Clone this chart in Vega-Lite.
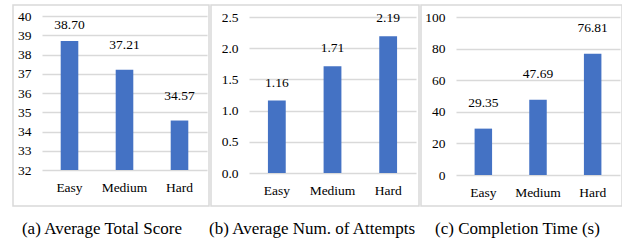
{
  "$schema": "https://vega.github.io/schema/vega-lite/v6.json",
  "background": "white",
  "padding": {"left": 12, "top": 4, "right": 1, "bottom": 0},
  "bounds": "flush",
  "spacing": 2,
  "datasets": {
    "score": [
      {"level": "Easy", "value": 38.70},
      {"level": "Medium", "value": 37.21},
      {"level": "Hard", "value": 34.57}
    ],
    "attempts": [
      {"level": "Easy", "value": 1.16},
      {"level": "Medium", "value": 1.71},
      {"level": "Hard", "value": 2.19}
    ],
    "time": [
      {"level": "Easy", "value": 29.35},
      {"level": "Medium", "value": 47.69},
      {"level": "Hard", "value": 76.81}
    ]
  },
  "config": {
    "font": "Liberation Serif",
    "view": {"stroke": "#d9d9d9", "strokeWidth": 1.5},
    "axis": {
      "labelFont": "Liberation Serif",
      "labelFontSize": 13.5,
      "labelColor": "#000000",
      "domain": false,
      "ticks": false,
      "gridColor": "#d9d9d9",
      "gridWidth": 1.3
    },
    "text": {"font": "Liberation Serif", "fontSize": 13.5, "color": "#000000"},
    "title": {"font": "Liberation Serif", "fontSize": 17, "fontWeight": "normal", "color": "#000000"}
  },
  "hconcat": [
    {
      "width": 196,
      "height": 201,
      "title": {"text": "(a) Average Total Score", "orient": "bottom", "offset": 15, "dx": -9, "anchor": "middle"},
      "data": {"name": "score"},
      "encoding": {
        "x": {
          "field": "level", "type": "nominal", "sort": ["Easy", "Medium", "Hard"],
          "scale": {"range": [29, 194], "paddingInner": 0.68, "paddingOuter": 0.34},
          "axis": {"title": null, "labelAngle": 0, "offset": -36, "labelPadding": 10, "grid": false}
        },
        "y": {
          "field": "value", "type": "quantitative",
          "scale": {"domain": [32, 40], "range": [165, 11], "zero": false, "nice": false},
          "axis": {"title": null, "values": [32, 33, 34, 35, 36, 37, 38, 39, 40], "offset": -29, "labelPadding": 11, "grid": true}
        }
      },
      "layer": [
        {"mark": {"type": "bar", "color": "#4472C4"}, "encoding": {"y2": {"datum": 32}}},
        {
          "transform": [{"filter": "datum.value < 38"}],
          "mark": {"type": "text", "dy": -21, "baseline": "alphabetic"},
          "encoding": {"text": {"field": "value", "type": "quantitative", "format": ".2f"}}
        },
        {
          "transform": [{"filter": "datum.value >= 38"}],
          "mark": {"type": "text", "dy": -12, "baseline": "alphabetic"},
          "encoding": {"text": {"field": "value", "type": "quantitative", "format": ".2f"}}
        }
      ]
    },
    {
      "width": 208,
      "height": 201,
      "title": {"text": "(b) Average Num. of Attempts", "orient": "bottom", "offset": 15, "dx": -3, "anchor": "middle"},
      "data": {"name": "attempts"},
      "encoding": {
        "x": {
          "field": "level", "type": "nominal", "sort": ["Easy", "Medium", "Hard"],
          "scale": {"range": [38, 205], "paddingInner": 0.68, "paddingOuter": 0.34},
          "axis": {"title": null, "labelAngle": 0, "offset": -33, "labelPadding": 10, "grid": false}
        },
        "y": {
          "field": "value", "type": "quantitative",
          "scale": {"domain": [0, 2.5], "range": [168, 12], "nice": false},
          "axis": {"title": null, "values": [0, 0.5, 1, 1.5, 2, 2.5], "format": ".1f", "offset": -38, "labelPadding": 11, "grid": true}
        }
      },
      "layer": [
        {"mark": {"type": "bar", "color": "#4472C4"}, "encoding": {"y2": {"datum": 0}}},
        {
          "mark": {"type": "text", "dy": -14, "baseline": "alphabetic"},
          "encoding": {"text": {"field": "value", "type": "quantitative", "format": ".2f"}}
        }
      ]
    },
    {
      "width": 201,
      "height": 201,
      "title": {"text": "(c) Completion Time (s)", "orient": "bottom", "offset": 15, "dx": -4, "anchor": "middle"},
      "data": {"name": "time"},
      "encoding": {
        "x": {
          "field": "level", "type": "nominal", "sort": ["Easy", "Medium", "Hard"],
          "scale": {"range": [35, 199], "paddingInner": 0.68, "paddingOuter": 0.34},
          "axis": {"title": null, "labelAngle": 0, "offset": -31, "labelPadding": 10, "grid": false}
        },
        "y": {
          "field": "value", "type": "quantitative",
          "scale": {"domain": [0, 100], "range": [170, 12], "nice": false},
          "axis": {"title": null, "values": [0, 20, 40, 60, 80, 100], "offset": -35, "labelPadding": 11, "grid": true}
        }
      },
      "layer": [
        {"mark": {"type": "bar", "color": "#4472C4"}, "encoding": {"y2": {"datum": 0}}},
        {
          "mark": {"type": "text", "dy": -22, "baseline": "alphabetic"},
          "encoding": {"text": {"field": "value", "type": "quantitative", "format": ".2f"}}
        }
      ]
    }
  ]
}
